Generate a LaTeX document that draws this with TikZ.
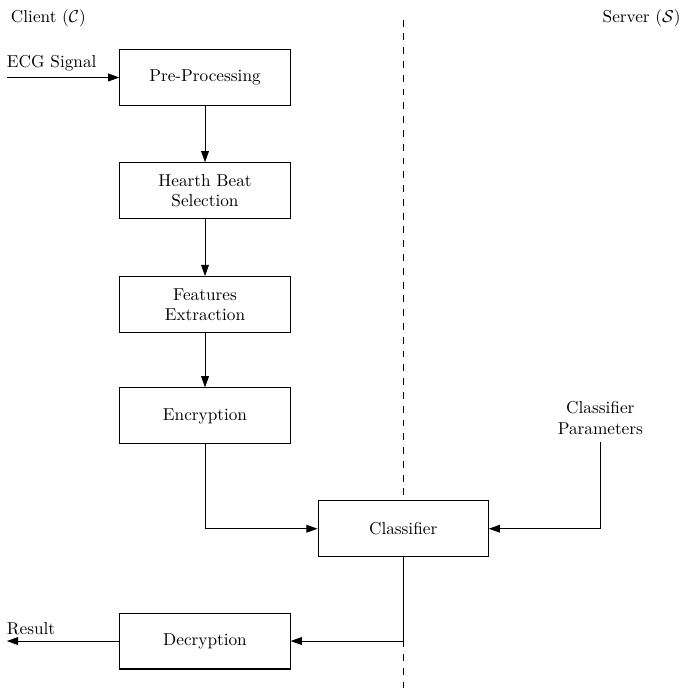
\documentclass[tikz,border=0pt]{standalone}
\usepackage{amsmath}
\usetikzlibrary{positioning,arrows.meta,calc}
\tikzset{
  block/.style={draw, semithick, fill=white, minimum width=3.47cm, minimum height=1.14cm, align=center, inner sep=2pt},
  flow/.style={semithick, -{Triangle[length=6.5pt,width=4.5pt]}},
}

\begin{document}
\begin{tikzpicture}
    \useasboundingbox (0,0) rectangle (13.97,14.17);
    % sides
    \node[anchor=west] (client) at (0.1,13.8) {Client ($\mathcal{C}$)};
    \node[anchor=east] (server) at (14.0,13.8) {Server ($\mathcal{S}$)};
    \draw[semithick, dash pattern=on 4pt off 4pt] (8.22,13.77) -- (8.22,0.1);
    % blocks
    \node[block] (pre) at (4.18,12.59) {Pre-Processing};
    \node[block] (beat) at (4.18,10.28) {Hearth Beat\\Selection};
    \node[block] (feat) at (4.18,7.96) {Features\\Extraction};
    \node[block] (enc) at (4.18,5.69) {Encryption};
    \node[block] (cls) at (8.22,3.39) {Classifier};
    \node[block] (dec) at (4.18,1.10) {Decryption};
    \node[align=center, inner sep=4pt] (par) at (12.24,5.65) {Classifier\\Parameters};
    % inputs and outputs
    \coordinate (ecg) at (0.14,12.59);
    \coordinate (res) at (0.14,1.10);
    \node[anchor=south west, inner sep=1pt] (ecgl) at (0.1,12.68) {ECG Signal};
    \node[anchor=south west, inner sep=1pt] (resl) at (0.1,1.19) {Result};
    % connectors
    \draw[flow] (ecg) -- (pre);
    \draw[flow] (pre) -- (beat);
    \draw[flow] (beat) -- (feat);
    \draw[flow] (feat) -- (enc);
    \draw[flow] (enc.south) |- (cls.west);
    \draw[flow] (par.south) |- (cls.east);
    \draw[flow] (cls.south) |- (dec.east);
    \draw[flow] (dec) -- (res);
\end{tikzpicture}
\end{document}
